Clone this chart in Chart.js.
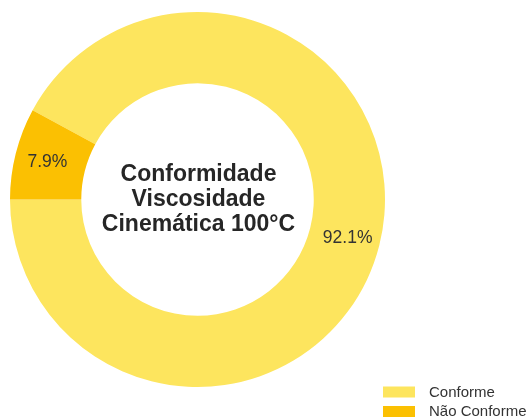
<!DOCTYPE html>
<html><head><meta charset="utf-8">
<script src="https://cdn.jsdelivr.net/npm/chart.js@4"></script>
<style>html,body{margin:0;padding:0;background:#fff}#w{width:527px;height:419px}</style>
</head><body><div id="w"><canvas id="c"></canvas></div>
<script>
const categories = ["Conforme", "Não Conforme"];
const values = [92.1, 7.9];
const colors = ["#FDE55E", "#FBC002"];
const centerLines = ["Conformidade", "Viscosidade", "Cinemática 100°C"];

const labelPlugin = {
  id: 'labels',
  afterDatasetsDraw(chart) {
    const ctx = chart.ctx;
    const meta = chart.getDatasetMeta(0);
    const total = values.reduce((a,b)=>a+b,0);
    ctx.save();
    ctx.font = '17.5px "Liberation Sans", Arial, sans-serif';
    ctx.fillStyle = '#333333';
    ctx.textAlign = 'center';
    ctx.textBaseline = 'middle';
    meta.data.forEach((arc, i) => {
      const p = arc.getProps(['x','y','startAngle','endAngle','outerRadius'], true);
      const mid = (p.startAngle + p.endAngle) / 2;
      const r = p.outerRadius * 0.826;
      ctx.fillText((values[i] / total * 100).toFixed(1) + '%', p.x + Math.cos(mid) * r, p.y + Math.sin(mid) * r + 1);
    });
    // center text
    const a = meta.data[0];
    ctx.font = 'bold 23px "Liberation Sans", Arial, sans-serif';
    ctx.fillStyle = '#262626';
    const lh = 25;
    centerLines.forEach((t, i) => {
      ctx.fillText(t, a.x + 1, a.y + (i - 1) * lh);
    });
    // legend
    ctx.font = '15px "Liberation Sans", Arial, sans-serif';
    ctx.textAlign = 'left';
    categories.forEach((c, i) => {
      const y = 392 + i * 19.5;
      ctx.fillStyle = colors[i];
      ctx.fillRect(383, y - 5.5, 32, 11);
      ctx.fillStyle = '#333333';
      ctx.fillText(c, 429, y + 0.5);
    });
    ctx.restore();
  }
};

new Chart(document.getElementById('c'), {
  type: 'doughnut',
  data: { labels: categories, datasets: [{ data: values, backgroundColor: colors, borderWidth: 0 }] },
  options: {
    responsive: true, maintainAspectRatio: false, animation: false,
    rotation: 298.44, cutout: '62%',
    layout: { padding: { left: 10, top: 12, right: 142, bottom: 32 } },
    plugins: { legend: { display: false }, tooltip: { enabled: false } }
  },
  plugins: [labelPlugin]
});
</script></body></html>
